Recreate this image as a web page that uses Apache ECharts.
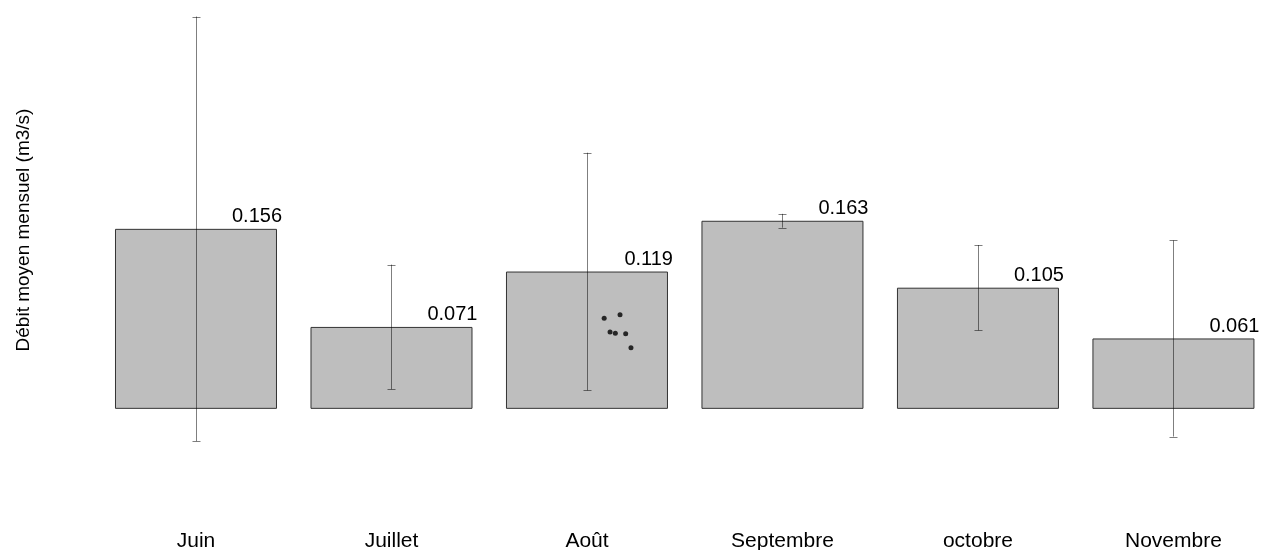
<!DOCTYPE html>
<html>
<head>
<meta charset="utf-8">
<script src="https://cdn.jsdelivr.net/npm/echarts@6/dist/echarts.min.js"></script>
<style>html,body{margin:0;padding:0;background:#fff}#c{width:1262px;height:550px}</style>
</head>
<body>
<div id="c"></div>
<script>
const categories = ['Juin', 'Juillet', 'Août', 'Septembre', 'octobre', 'Novembre'];
const means = [0.156, 0.071, 0.119, 0.163, 0.105, 0.061];
const errLow = [-0.028, 0.017, 0.016, 0.157, 0.068, -0.024];
const errHigh = [0.340, 0.125, 0.222, 0.169, 0.142, 0.146];
const pointsX = [2.088, 2.169, 2.118, 2.145, 2.198, 2.225];
const pointsY = [0.0786, 0.0815, 0.0665, 0.0656, 0.065, 0.0529];
const yTitle = 'Débit moyen mensuel (m3/s)';

const chart = echarts.init(document.getElementById('c'), null, {renderer: 'canvas'});
const font = 'Liberation Sans, Arial, sans-serif';
const idx = categories.map((c, i) => i);
chart.setOption({
  animation: false,
  backgroundColor: '#fff',
  grid: {left: 98, right: 0, top: 5, bottom: 95, containLabel: false, outerBoundsMode: 'none'},
  xAxis: {
    type: 'value', min: -0.5013, max: 5.453,
    axisLine: {show: false}, axisTick: {show: false}, splitLine: {show: false},
    axisLabel: {color: '#000', fontSize: 21, fontFamily: font, margin: 76,
      customValues: idx, formatter: v => categories[Math.round(v)]}
  },
  yAxis: {
    type: 'value', min: -0.04, max: 0.35,
    axisLine: {show: false}, axisTick: {show: false}, splitLine: {show: false},
    axisLabel: {show: false},
    name: yTitle, nameLocation: 'middle', nameGap: 65, nameRotate: 90,
    nameTextStyle: {color: '#000', fontSize: 19, fontFamily: font}
  },
  series: [{
    type: 'bar', data: means.map((m, i) => [i, m]), barWidth: 162,
    itemStyle: {color: '#bebebe', borderColor: '#333', borderWidth: 1},
    label: {show: true, position: [167, -2], align: 'right', verticalAlign: 'bottom',
      color: '#000', fontSize: 20, fontFamily: font,
      formatter: p => p.value[1].toFixed(3)}
  }, {
    type: 'custom', z: 5,
    data: idx.map(i => [i, errLow[i], errHigh[i]]),
    renderItem: function (params, api) {
      const lo = api.coord([api.value(0), api.value(1)]);
      const hi = api.coord([api.value(0), api.value(2)]);
      const x = Math.round(lo[0]) + 0.5;
      const c = 4;
      const st = {stroke: 'rgba(0,0,0,0.5)', lineWidth: 1};
      return {type: 'group', children: [
        {type: 'line', shape: {x1: x, y1: hi[1], x2: x, y2: lo[1]}, style: st},
        {type: 'line', shape: {x1: x - c, y1: Math.round(hi[1]) + 0.5, x2: x + c, y2: Math.round(hi[1]) + 0.5}, style: st},
        {type: 'line', shape: {x1: x - c, y1: Math.round(lo[1]) + 0.5, x2: x + c, y2: Math.round(lo[1]) + 0.5}, style: st}
      ]};
    }
  }, {
    type: 'scatter', z: 6,
    data: pointsX.map((x, i) => [x, pointsY[i]]),
    symbolSize: 5, itemStyle: {color: '#000'}
  }]
});
</script>
</body>
</html>
